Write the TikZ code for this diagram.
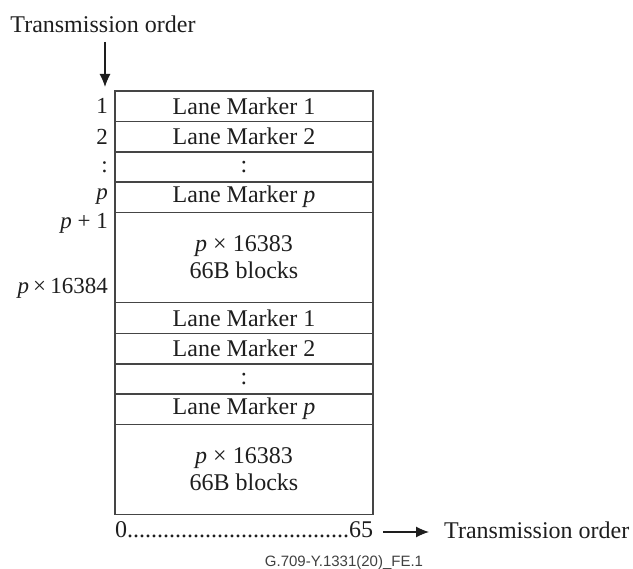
\documentclass[tikz,border=0pt]{standalone}
\usepackage{fontspec}
\setmainfont{Liberation Serif}
\newfontfamily\capfont{Liberation Sans}
\usetikzlibrary{arrows.meta}
\definecolor{ink}{HTML}{1E1E1E}
\definecolor{frame}{HTML}{454545}
\begin{document}
\begin{tikzpicture}[x=1pt,y=-1pt,
  every node/.style={text=ink,font=\fontsize{24}{27}\selectfont},
  rowbox/.style={draw=frame,line width=1.5pt,minimum width=258pt,inner sep=0pt,outer sep=0pt,anchor=north,align=center},
  sidelabel/.style={anchor=east,inner sep=0pt,font=\fontsize{23}{26}\selectfont},
  order/.style={-{Latex[length=13pt,width=11pt]},draw=ink,line width=1.1pt}]
\useasboundingbox (0,0) rectangle (633,569);
% rows
\node[rowbox,minimum height=30.5pt] (r1) at (244,91) {Lane Marker 1};
\node[rowbox,minimum height=30.3pt] (r2) at (r1.south) {Lane Marker 2};
\node[rowbox,minimum height=30.2pt] (r3) at (r2.south) {:};
\node[rowbox,minimum height=30.3pt] (r4) at (r3.south) {Lane Marker \textit{p}};
\node[rowbox,minimum height=90pt] (r5) at (r4.south) {\textit{p} × 16383\\66B blocks};
\node[rowbox,minimum height=31.2pt] (r6) at (r5.south) {Lane Marker 1};
\node[rowbox,minimum height=30.3pt] (r7) at (r6.south) {Lane Marker 2};
\node[rowbox,minimum height=30.2pt] (r8) at (r7.south) {:};
\node[rowbox,minimum height=30.3pt] (r9) at (r8.south) {Lane Marker \textit{p}};
\node[rowbox,minimum height=90pt] (r10) at (r9.south) {\textit{p} × 16383\\66B blocks};
% left labels
\node[sidelabel] (l1) at (108,106) {1};
\node[sidelabel] (l2) at (108,136.5) {2};
\node[sidelabel] (l3) at (108,167) {:};
\node[sidelabel] (l4) at (108,197) {\textit{p}};
\node[sidelabel] (l5) at (108,223) {\textit{p} + 1};
\node[sidelabel] (l6) at (108,288) {\textit{p}\hspace{0.18em}×\hspace{0.18em}16384};
% top transmission order
\node[anchor=center] (t1) at (103,24) {Transmission order};
\coordinate (a1s) at (105,42);
\coordinate (a1e) at (105,87);
\draw[order] (a1s) -- (a1e);
% bottom
\node[anchor=west,inner sep=0pt] (b0) at (115,530) {0.....................................65};
\coordinate (a2s) at (383,532);
\coordinate (a2e) at (429,532);
\draw[order] (a2s) -- (a2e);
\node[anchor=west,inner sep=0pt] (t2) at (444,530) {Transmission order};
\node[anchor=base,inner sep=0pt,text=black!75,font=\capfont\fontsize{15}{17}\selectfont] (cap) at (344,567) {G.709-Y.1331(20)\_FE.1};
\end{tikzpicture}
\end{document}
